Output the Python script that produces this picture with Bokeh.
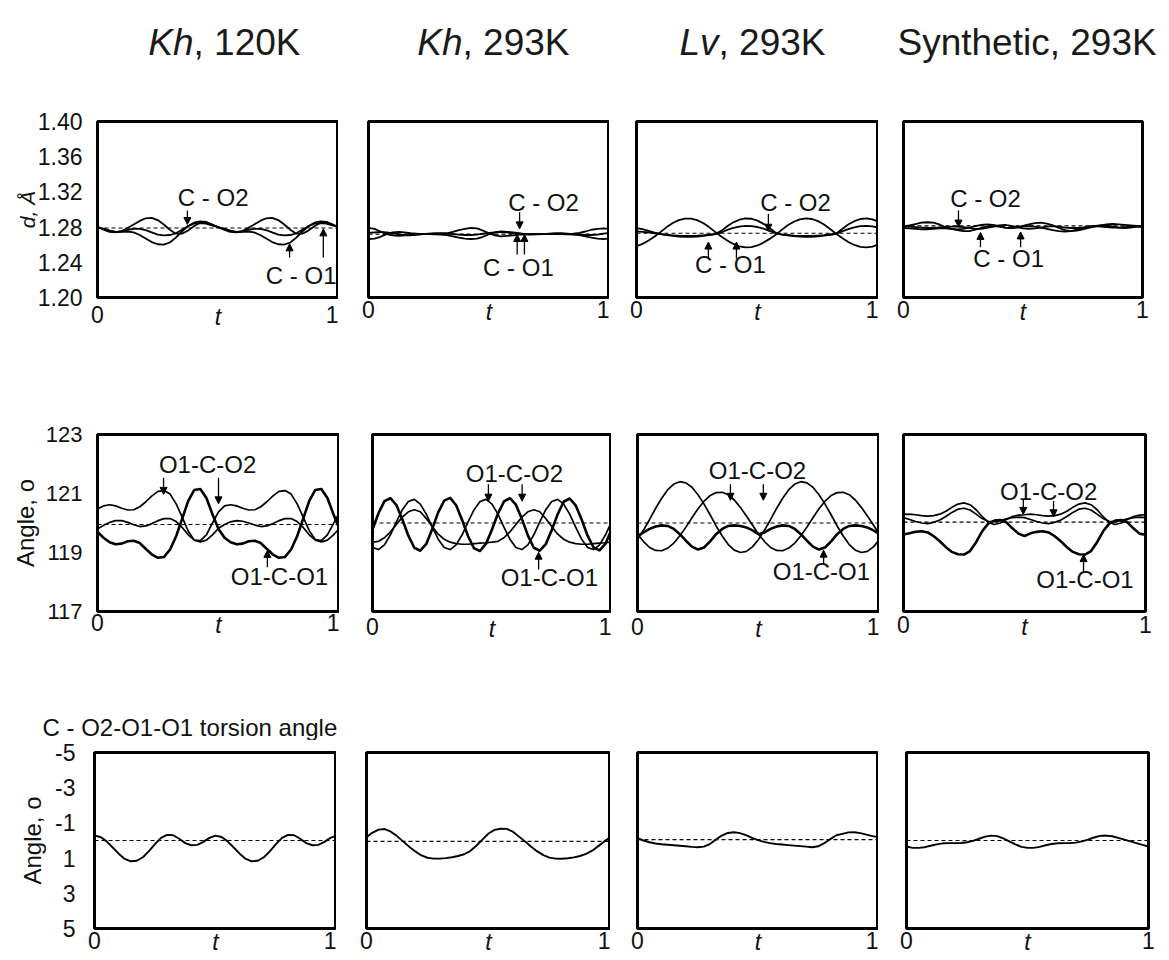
from bokeh.plotting import figure
from bokeh.layouts import column, row
from bokeh.models import Range1d, FixedTicker, PrintfTickFormatter, Label, Arrow, NormalHead, Span
from bokeh.embed import file_html
from bokeh.resources import INLINE
from bokeh.core.properties import value

FONT = "Liberation Sans"

# ---------------- data ----------------
T = [0.0, 0.025, 0.05, 0.075, 0.1, 0.125, 0.15, 0.175, 0.2, 0.225, 0.25, 0.275, 0.3, 0.325,
     0.35, 0.375, 0.4, 0.425, 0.45, 0.475, 0.5, 0.525, 0.55, 0.575, 0.6, 0.625, 0.65, 0.675,
     0.7, 0.725, 0.75, 0.775, 0.8, 0.825, 0.85, 0.875, 0.9, 0.925, 0.95, 0.975, 1.0]

COL_TITLE_ITALIC = ["Kh", "Kh", "Lv"]
COL_TITLE_REST = [", 120K", ", 293K", ", 293K"]
COL_TITLE_PLAIN = "Synthetic, 293K"
TORSION_TITLE = "C - O2-O1-O1 torsion angle"
Y_LABELS = ["d, \u00c5", "Angle, o", "Angle, o"]
Y_TICKS = [[1.20, 1.24, 1.28, 1.32, 1.36, 1.40], [117, 119, 121, 123], [-5, -3, -1, 1, 3, 5]]
Y_FORMATS = ["%.2f", "%d", "%d"]
Y_RANGES = [(1.20, 1.40), (117, 123), (5, -5)]
X_TICKS = [0, 1]
X_LABEL = "t"

# bond lengths (Angstrom)
BOND_KH120_A = [1.280, 1.277, 1.2745, 1.274, 1.2755, 1.279, 1.283, 1.287, 1.290, 1.2905, 1.288, 1.283, 1.277, 1.2725, 1.2725, 1.276, 1.281, 1.285, 1.2855, 1.283, 1.280,
                1.277, 1.2745, 1.274, 1.2755, 1.279, 1.283, 1.287, 1.290, 1.2905, 1.288, 1.283, 1.277, 1.2725, 1.2725, 1.276, 1.281, 1.285, 1.2855, 1.283, 1.280]
BOND_KH120_B = [1.280, 1.278, 1.276, 1.2745, 1.2745, 1.275, 1.274, 1.271, 1.267, 1.263, 1.2605, 1.260, 1.2625, 1.268, 1.275, 1.281, 1.285, 1.2865, 1.286, 1.283, 1.280,
                1.278, 1.276, 1.2745, 1.2745, 1.275, 1.274, 1.271, 1.267, 1.263, 1.2605, 1.260, 1.2625, 1.268, 1.275, 1.281, 1.285, 1.2865, 1.286, 1.283, 1.280]
BOND_KH120_C = [1.280, 1.278, 1.276, 1.2745, 1.275, 1.277, 1.278, 1.278, 1.2765, 1.274, 1.2715, 1.2705, 1.271, 1.273, 1.277, 1.281, 1.284, 1.2845, 1.284, 1.282, 1.280,
                1.278, 1.276, 1.2745, 1.275, 1.277, 1.278, 1.278, 1.2765, 1.274, 1.2715, 1.2705, 1.271, 1.273, 1.277, 1.281, 1.284, 1.2845, 1.284, 1.282, 1.280]

BOND_KH293_A = [1.279, 1.278, 1.275, 1.272, 1.2705, 1.270, 1.2705, 1.271, 1.2715, 1.272, 1.272, 1.2722, 1.2725, 1.273, 1.2745, 1.2765, 1.278, 1.279, 1.2785, 1.276,
                1.273, 1.2705, 1.2695, 1.270, 1.2705, 1.2715, 1.272, 1.272, 1.272, 1.272, 1.272, 1.272, 1.272, 1.2722, 1.2725, 1.2735, 1.275, 1.277, 1.278, 1.2785, 1.278]
BOND_KH293_B = [1.2665, 1.267, 1.269, 1.272, 1.274, 1.2745, 1.274, 1.273, 1.2725, 1.272, 1.272, 1.2718, 1.2715, 1.271, 1.2695, 1.268, 1.2668, 1.2665, 1.267, 1.269,
                1.272, 1.274, 1.275, 1.2745, 1.274, 1.273, 1.272, 1.272, 1.272, 1.272, 1.272, 1.272, 1.272, 1.2718, 1.2715, 1.271, 1.2695, 1.268, 1.267, 1.2665, 1.267]
BOND_KH293_C = [1.2735, 1.274, 1.2745, 1.274, 1.273, 1.272, 1.271, 1.2705, 1.2715, 1.272, 1.2725, 1.273, 1.273, 1.2725, 1.272, 1.2715, 1.271, 1.271, 1.2715, 1.2725,
                1.2735, 1.274, 1.2745, 1.274, 1.273, 1.272, 1.2715, 1.2715, 1.2718, 1.272, 1.2725, 1.273, 1.273, 1.2725, 1.272, 1.2715, 1.271, 1.271, 1.2715, 1.2725, 1.2735]

BOND_LV293_A = [1.2582, 1.2609, 1.2648, 1.2694, 1.2746, 1.2800, 1.2846, 1.2879, 1.2897, 1.2897, 1.2879, 1.2846, 1.2800, 1.2746, 1.2694, 1.2648, 1.2609, 1.2582, 1.2570, 1.2573,
                1.2591, 1.2624, 1.2666, 1.2714, 1.2768, 1.2820, 1.2861, 1.2888, 1.2899, 1.2892, 1.2868, 1.2829, 1.2779, 1.2724, 1.2675, 1.2631, 1.2597, 1.2576, 1.2569, 1.2578, 1.2603]
BOND_LV293_B = [1.2788, 1.2776, 1.2758, 1.2737, 1.2721, 1.2713, 1.2707, 1.2702, 1.2699, 1.2699, 1.2702, 1.2707, 1.2713, 1.2721, 1.2757, 1.2810, 1.2854, 1.2884, 1.2898, 1.2895,
                1.2874, 1.2837, 1.2790, 1.2735, 1.2718, 1.2710, 1.2704, 1.2701, 1.2699, 1.2700, 1.2704, 1.2709, 1.2716, 1.2724, 1.2779, 1.2829, 1.2867, 1.2892, 1.2899, 1.2888, 1.2861]
BOND_LV293_C = [1.2751, 1.2746, 1.2739, 1.2730, 1.2720, 1.2709, 1.2700, 1.2693, 1.2689, 1.2689, 1.2693, 1.2700, 1.2709, 1.2720, 1.2741, 1.2768, 1.2791, 1.2806, 1.2814, 1.2812,
                1.2801, 1.2782, 1.2758, 1.2730, 1.2715, 1.2705, 1.2697, 1.2691, 1.2689, 1.2690, 1.2695, 1.2703, 1.2713, 1.2724, 1.2752, 1.2778, 1.2798, 1.2810, 1.2814, 1.2809, 1.2794]

BOND_SYN293_A = [1.281, 1.282, 1.2835, 1.285, 1.2855, 1.285, 1.283, 1.280, 1.278, 1.2775, 1.278, 1.2795, 1.281, 1.2825, 1.283, 1.2825, 1.281, 1.2795, 1.279, 1.280,
                 1.2815, 1.283, 1.2845, 1.285, 1.284, 1.282, 1.279, 1.2765, 1.2755, 1.276, 1.2775, 1.279, 1.2805, 1.282, 1.283, 1.2835, 1.283, 1.2825, 1.282, 1.2815, 1.281]
BOND_SYN293_B = [1.279, 1.2785, 1.278, 1.2775, 1.2775, 1.278, 1.2785, 1.2785, 1.278, 1.2765, 1.2755, 1.2755, 1.277, 1.279, 1.2805, 1.281, 1.2805, 1.2795, 1.279, 1.2795,
                 1.2805, 1.281, 1.2805, 1.2795, 1.278, 1.2765, 1.2755, 1.275, 1.2755, 1.277, 1.279, 1.2805, 1.281, 1.2805, 1.280, 1.2795, 1.2795, 1.280, 1.2805, 1.2805, 1.280]
BOND_SYN293_C = [1.2805, 1.2805, 1.280, 1.2795, 1.279, 1.279, 1.2795, 1.280, 1.2805, 1.2805, 1.280, 1.279, 1.278, 1.278, 1.279, 1.2805, 1.282, 1.2825, 1.2815, 1.280,
                 1.2785, 1.278, 1.2785, 1.2795, 1.2805, 1.281, 1.2805, 1.2795, 1.279, 1.279, 1.2795, 1.2805, 1.2815, 1.282, 1.2815, 1.2805, 1.2795, 1.279, 1.2795, 1.2805, 1.281]

# O-C-O angles (degrees)
ANGLE_KH120_A = [120.48, 120.58, 120.62, 120.58, 120.5, 120.44, 120.45, 120.55, 120.72, 120.92, 121.07, 121.1, 120.98, 120.65, 120.2, 119.72, 119.42, 119.4, 119.6, 120.0,
                 120.38, 120.58, 120.62, 120.58, 120.5, 120.44, 120.45, 120.55, 120.72, 120.92, 121.07, 121.1, 120.98, 120.65, 120.2, 119.74, 119.44, 119.4, 119.6, 119.98, 120.36]
ANGLE_KH120_B = [119.7, 119.5, 119.35, 119.28, 119.3, 119.38, 119.4, 119.32, 119.12, 118.93, 118.82, 118.85, 119.1, 119.55, 120.15, 120.75, 121.12, 121.15, 120.85, 120.3,
                 119.8, 119.5, 119.35, 119.28, 119.3, 119.38, 119.4, 119.32, 119.12, 118.93, 118.82, 118.85, 119.1, 119.55, 120.15, 120.75, 121.12, 121.15, 120.85, 120.3, 119.8]
ANGLE_KH120_C = [119.8, 119.92, 120.02, 120.08, 120.08, 120.02, 119.94, 119.88, 119.9, 119.98, 120.08, 120.15, 120.15, 120.05, 119.85, 119.6, 119.42, 119.36, 119.42, 119.6,
                 119.82, 119.95, 120.04, 120.08, 120.06, 120.0, 119.93, 119.88, 119.9, 119.98, 120.08, 120.15, 120.15, 120.05, 119.85, 119.6, 119.42, 119.36, 119.42, 119.6, 119.82]

ANGLE_KH293_A = [119.78, 120.33, 120.74, 120.84, 120.61, 120.12, 119.57, 119.16, 119.06, 119.29, 119.8, 120.36, 120.76, 120.85, 120.6, 120.1, 119.55, 119.14, 119.05, 119.3,
                 119.78, 120.32, 120.73, 120.84, 120.62, 120.14, 119.58, 119.16, 119.06, 119.28, 119.76, 120.3, 120.72, 120.83, 120.6, 120.12, 119.57, 119.17, 119.07, 119.3, 119.78]
ANGLE_KH293_B = [119.17, 119.10, 119.26, 119.60, 120.04, 120.45, 120.73, 120.80, 120.64, 120.30, 119.86, 119.45,
                 119.17, 119.10, 119.26, 119.60, 120.04, 120.45, 120.73, 120.80, 120.64, 120.30, 119.86, 119.45,
                 119.17, 119.10, 119.26, 119.60, 120.04, 120.45, 120.73, 120.80, 120.64, 120.30, 119.86, 119.45,
                 119.17, 119.10, 119.26, 119.60, 120.04]
ANGLE_KH293_C = [119.35, 119.38, 119.5, 119.7, 119.95, 120.2, 120.38, 120.45, 120.38, 120.15, 119.88, 119.62, 119.45, 119.35, 119.3, 119.28, 119.28, 119.3, 119.32, 119.33,
                 119.35, 119.38, 119.5, 119.7, 119.95, 120.2, 120.38, 120.45, 120.38, 120.15, 119.88, 119.62, 119.45, 119.35, 119.3, 119.28, 119.28, 119.3, 119.32, 119.33, 119.35]

ANGLE_LV293_A = [119.44, 119.76, 120.12, 120.50, 120.84, 121.13, 121.32, 121.40, 121.36, 121.21, 120.96, 120.64, 120.28, 119.90, 119.56, 119.27, 119.08, 119.00, 119.04, 119.19,
                 119.44, 119.76, 120.12, 120.50, 120.84, 121.13, 121.32, 121.40, 121.36, 121.21, 120.96, 120.64, 120.28, 119.90, 119.56, 119.27, 119.08, 119.00, 119.04, 119.19, 119.44]
ANGLE_LV293_B = [119.62, 119.37, 119.17, 119.07, 119.06, 119.15, 119.32, 119.57, 119.86, 120.18, 120.48, 120.74, 120.93, 121.03, 121.04, 120.96, 120.78, 120.53, 120.24, 119.93,
                 119.62, 119.37, 119.17, 119.07, 119.06, 119.15, 119.32, 119.57, 119.86, 120.18, 120.48, 120.74, 120.93, 121.03, 121.04, 120.96, 120.78, 120.53, 120.24, 119.93, 119.62]
ANGLE_LV293_C = [119.55, 119.68, 119.8, 119.88, 119.92, 119.9, 119.8, 119.62, 119.4, 119.2, 119.1, 119.17, 119.38, 119.62, 119.8, 119.9, 119.92, 119.9, 119.85, 119.75,
                 119.62, 119.68, 119.8, 119.88, 119.92, 119.9, 119.8, 119.62, 119.4, 119.2, 119.1, 119.17, 119.38, 119.62, 119.8, 119.9, 119.92, 119.9, 119.85, 119.75, 119.62]

ANGLE_SYN293_A = [120.29, 120.3, 120.28, 120.25, 120.23, 120.25, 120.3, 120.4, 120.53, 120.64, 120.68, 120.62, 120.45, 120.22, 120.02, 119.95, 120.0, 120.12, 120.22, 120.27,
                  120.28, 120.3, 120.28, 120.25, 120.23, 120.25, 120.3, 120.4, 120.53, 120.64, 120.68, 120.62, 120.45, 120.22, 120.02, 119.95, 120.0, 120.12, 120.22, 120.27, 120.28]
ANGLE_SYN293_B = [120.18, 120.12, 120.05, 120.0, 119.98, 120.02, 120.1, 120.22, 120.36, 120.47, 120.5, 120.44, 120.3, 120.15, 120.06, 120.05, 120.08, 120.14, 120.18, 120.2,
                  120.18, 120.12, 120.05, 120.0, 119.98, 120.02, 120.1, 120.22, 120.36, 120.47, 120.5, 120.44, 120.3, 120.15, 120.06, 120.05, 120.08, 120.14, 120.18, 120.2, 120.18]
ANGLE_SYN293_C = [119.61, 119.65, 119.7, 119.72, 119.68, 119.55, 119.38, 119.18, 119.02, 118.94, 118.93, 119.05, 119.35, 119.72, 119.98, 120.08, 120.1, 120.02, 119.82, 119.64,
                  119.56, 119.65, 119.7, 119.72, 119.68, 119.55, 119.38, 119.18, 119.02, 118.94, 118.93, 119.05, 119.35, 119.72, 119.98, 120.08, 120.1, 120.02, 119.82, 119.64, 119.6]

# torsion angles (degrees)
TORSION_KH120 = [-0.28, -0.2, 0.05, 0.4, 0.75, 1.05, 1.18, 1.15, 0.95, 0.6, 0.2, -0.15, -0.32, -0.3, -0.1, 0.15, 0.27, 0.25, 0.08, -0.15,
                 -0.28, -0.2, 0.05, 0.4, 0.75, 1.05, 1.18, 1.15, 0.95, 0.6, 0.2, -0.15, -0.32, -0.3, -0.1, 0.15, 0.27, 0.25, 0.08, -0.15, -0.28]
TORSION_KH293 = [-0.19, -0.45, -0.62, -0.65, -0.5, -0.25, 0.05, 0.35, 0.62, 0.85, 0.98, 1.03, 1.03, 1.0, 0.95, 0.88, 0.78, 0.6, 0.3, -0.05,
                 -0.4, -0.6, -0.67, -0.66, -0.5, -0.22, 0.05, 0.35, 0.62, 0.83, 0.97, 1.03, 1.04, 1.01, 0.96, 0.88, 0.76, 0.58, 0.32, 0.05, -0.19]
TORSION_LV293 = [-0.13, 0.0, 0.1, 0.17, 0.21, 0.24, 0.27, 0.3, 0.33, 0.36, 0.38, 0.35, 0.2, -0.05, -0.28, -0.43, -0.47, -0.42, -0.3, -0.15,
                 -0.02, 0.08, 0.15, 0.2, 0.23, 0.26, 0.29, 0.32, 0.35, 0.38, 0.33, 0.15, -0.08, -0.3, -0.38, -0.46, -0.47, -0.42, -0.33, -0.25, -0.19]
TORSION_SYN293 = [0.34, 0.42, 0.42, 0.38, 0.3, 0.22, 0.16, 0.15, 0.15, 0.14, 0.1, 0.02, -0.1, -0.22, -0.28, -0.25, -0.12, 0.05, 0.22, 0.36,
                  0.42, 0.42, 0.36, 0.27, 0.2, 0.16, 0.15, 0.15, 0.12, 0.05, -0.05, -0.17, -0.26, -0.28, -0.24, -0.15, -0.05, 0.05, 0.15, 0.25, 0.34]

# reference (dashed) levels per column
REF_BOND = [1.279, 1.272, 1.273, 1.2815]
REF_ANGLE = [119.95, 120.0, 120.0, 120.03]
REF_TORSION = [0.0, 0.05, -0.05, 0.0]

# curve labels: (text, t, value)
LABELS_BOND = [
    [("C - O2", 0.48, 1.3136), ("C - O1", 0.845, 1.225)],
    [("C - O2", 0.726, 1.308), ("C - O1", 0.622, 1.234)],
    [("C - O2", 0.657, 1.308), ("C - O1", 0.388, 1.2375)],
    [("C - O2", 0.343, 1.3125), ("C - O1", 0.44, 1.244)],
]
LABELS_ANGLE = [
    [("O1-C-O2", 0.455, 121.98), ("O1-C-O1", 0.752, 118.19)],
    [("O1-C-O2", 0.594, 121.68), ("O1-C-O1", 0.74, 118.15)],
    [("O1-C-O2", 0.496, 121.78), ("O1-C-O1", 0.76, 118.35)],
    [("O1-C-O2", 0.60, 121.07), ("O1-C-O1", 0.75, 118.08)],
]
# arrows: (t, value_start, value_end)
ARROWS_BOND = [
    [(0.373, 1.299, 1.283), (0.797, 1.2455, 1.261), (0.937, 1.2455, 1.278)],
    [(0.627, 1.297, 1.278), (0.617, 1.249, 1.2716), (0.647, 1.249, 1.2716)],
    [(0.545, 1.295, 1.2753), (0.297, 1.244, 1.263), (0.413, 1.244, 1.263)],
    [(0.23, 1.299, 1.280), (0.322, 1.257, 1.274), (0.49, 1.257, 1.2745)],
]
ARROWS_ANGLE = [
    [(0.273, 121.53, 120.97), (0.50, 121.53, 120.65), (0.702, 118.5, 119.07)],
    [(0.485, 121.31, 120.74), (0.626, 121.31, 120.74), (0.695, 118.42, 119.01)],
    [(0.384, 121.31, 120.77), (0.52, 121.31, 120.77), (0.769, 118.59, 119.08)],
    [(0.495, 120.80, 120.29), (0.62, 120.75, 120.21), (0.744, 118.31, 118.93)],
]

BOND = [[BOND_KH120_A, BOND_KH120_B, BOND_KH120_C],
        [BOND_KH293_A, BOND_KH293_B, BOND_KH293_C],
        [BOND_LV293_A, BOND_LV293_B, BOND_LV293_C],
        [BOND_SYN293_A, BOND_SYN293_B, BOND_SYN293_C]]
ANGLE = [[ANGLE_KH120_A, ANGLE_KH120_B, ANGLE_KH120_C],
         [ANGLE_KH293_A, ANGLE_KH293_B, ANGLE_KH293_C],
         [ANGLE_LV293_A, ANGLE_LV293_B, ANGLE_LV293_C],
         [ANGLE_SYN293_A, ANGLE_SYN293_B, ANGLE_SYN293_C]]
ANGLE_BOLD = [[False, True, False], [True, False, False], [False, False, True], [False, False, True]]
TORSION = [[TORSION_KH120], [TORSION_KH293], [TORSION_LV293], [TORSION_SYN293]]

# ---------------- layout (pixels) ----------------
ROW_GEOM = [  # (top border, frame height, bottom border)
    (41, 176, 103),
    (34, 177, 79),
    (12, 176, 32),
]
COL_GEOM = [  # per row: (left border, frame width, right border)
    [(97, 241, 0), (30, 241, 0), (27, 242, 0), (25, 239, 27)],
    [(97, 242, 0), (33, 239, 0), (26, 242, 0), (24, 242, 24)],
    [(94, 242, 0), (30, 244, 0), (27, 241, 0), (28, 242, 21)],
]
XT_STANDOFF = [[8, 3, 3, 3], [2, 6, 6, 4], [3, 3, 3, 3]]
XL_STANDOFF = [-22, -22, -23]
YT_STANDOFF = [15, 15, 19]
YL_STANDOFF = [-4, 4, 6]
YL_SIZE = ["21px", "24px", "24px"]
YT_SIZE = ["23px", "22px", "23px"]


def make_panel(r, c):
    lb, fw, rb = COL_GEOM[r][c]
    tb, fh, bb = ROW_GEOM[r]
    y0, y1 = Y_RANGES[r]
    p = figure(frame_width=fw, frame_height=fh, x_range=Range1d(0, 1), y_range=Range1d(y0, y1),
               min_border_left=lb, min_border_right=rb, min_border_top=tb, min_border_bottom=bb,
               x_axis_location="below", y_axis_location=("left" if c == 0 else None),
               toolbar_location=None, output_backend="svg", title=None)
    p.outline_line_color = "black"
    p.outline_line_width = 3
    p.background_fill_color = "white"
    p.border_fill_color = "white"
    p.grid.visible = False

    xa = p.xaxis[0]
    xa.ticker = FixedTicker(ticks=X_TICKS)
    xa.major_label_text_font = FONT
    xa.major_label_text_font_size = "23px"
    xa.major_label_text_color = "#111111"
    xa.major_label_standoff = XT_STANDOFF[r][c]
    xa.major_tick_line_color = None
    xa.major_tick_in = 0
    xa.major_tick_out = 0
    xa.minor_tick_line_color = None
    xa.axis_line_color = None
    xa.axis_label = X_LABEL
    xa.axis_label_text_font = FONT
    xa.axis_label_text_font_size = "23px"
    xa.axis_label_text_font_style = "italic"
    xa.axis_label_text_color = "#111111"
    xa.axis_label_standoff = XL_STANDOFF[r]

    if c == 0:
        ax = p.yaxis[0]
        ax.ticker = FixedTicker(ticks=Y_TICKS[r])
        ax.formatter = PrintfTickFormatter(format=Y_FORMATS[r])
        ax.major_label_text_font = FONT
        ax.major_label_text_font_size = YT_SIZE[r]
        ax.major_label_text_color = "#111111"
        ax.major_label_standoff = YT_STANDOFF[r]
        ax.major_tick_line_color = None
        ax.major_tick_in = 0
        ax.major_tick_out = 0
        ax.minor_tick_line_color = None
        ax.axis_line_color = None
        ax.axis_label = Y_LABELS[r]
        ax.axis_label_text_font = FONT
        ax.axis_label_text_font_size = YL_SIZE[r]
        ax.axis_label_text_font_style = "italic" if r == 0 else "normal"
        ax.axis_label_text_color = "#111111"
        ax.axis_label_standoff = YL_STANDOFF[r]

    # dashed reference level
    ref = [REF_BOND, REF_ANGLE, REF_TORSION][r][c]
    p.add_layout(Span(location=ref, dimension="width", line_color="black",
                      line_width=1.2, line_dash="4 3"))

    # curves
    if r == 0:
        for ys in BOND[c]:
            p.line(T, ys, line_color="black", line_width=1.8, line_join="round")
    elif r == 1:
        for ys, bold in zip(ANGLE[c], ANGLE_BOLD[c]):
            p.line(T, ys, line_color="black", line_width=(2.6 if bold else 1.7), line_join="round")
    else:
        for ys in TORSION[c]:
            p.line(T, ys, line_color="black", line_width=1.9, line_join="round")

    # curve labels and arrows
    if r < 2:
        labels = [LABELS_BOND, LABELS_ANGLE][r][c]
        arrows = [ARROWS_BOND, ARROWS_ANGLE][r][c]
        for txt, tx, ty in labels:
            p.add_layout(Label(x=tx, y=ty, text=txt, text_align="center", text_baseline="middle",
                               text_font=FONT, text_font_size="24px", text_color="#111111"))
        for tx, ys, ye in arrows:
            p.add_layout(Arrow(end=NormalHead(size=7, line_color="black", fill_color="black", line_width=1),
                               x_start=tx, y_start=ys, x_end=tx, y_end=ye,
                               line_color="black", line_width=1.3))
    return p


def text_strip(height):
    s = figure(width=1169, height=height, x_range=Range1d(0, 1169), y_range=Range1d(0, height),
               x_axis_location=None, y_axis_location=None, min_border=0,
               toolbar_location=None, output_backend="svg", title=None)
    s.outline_line_color = None
    s.grid.visible = False
    s.background_fill_color = "white"
    s.border_fill_color = "white"
    return s


# column titles
header = text_strip(80)
TITLE_SPLIT_X = [193, 462, 718]
TITLE_Y = [38, 38, 38]
header.text(x=TITLE_SPLIT_X, y=TITLE_Y, text=COL_TITLE_ITALIC, text_align="right",
            text_baseline="alphabetic", text_font=value(FONT), text_font_size="37px",
            text_font_style="italic", text_color="#1a1a1a")
header.text(x=TITLE_SPLIT_X, y=TITLE_Y, text=COL_TITLE_REST, text_align="left",
            text_baseline="alphabetic", text_font=value(FONT), text_font_size="37px",
            text_color="#1a1a1a")
header.text(x=[897], y=[38], text=[COL_TITLE_PLAIN], text_align="left",
            text_baseline="alphabetic", text_font=value(FONT), text_font_size="37px",
            text_color="#1a1a1a")

strip = text_strip(50)
strip.text(x=[42], y=[13], text=[TORSION_TITLE], text_align="left", text_baseline="alphabetic",
           text_font=value(FONT), text_font_size="24px", text_color="#111111")

rows = [row(*[make_panel(r, c) for c in range(4)]) for r in range(3)]
layout = column(header, rows[0], rows[1], strip, rows[2])

open("out.html", "w").write(file_html(layout, INLINE))
